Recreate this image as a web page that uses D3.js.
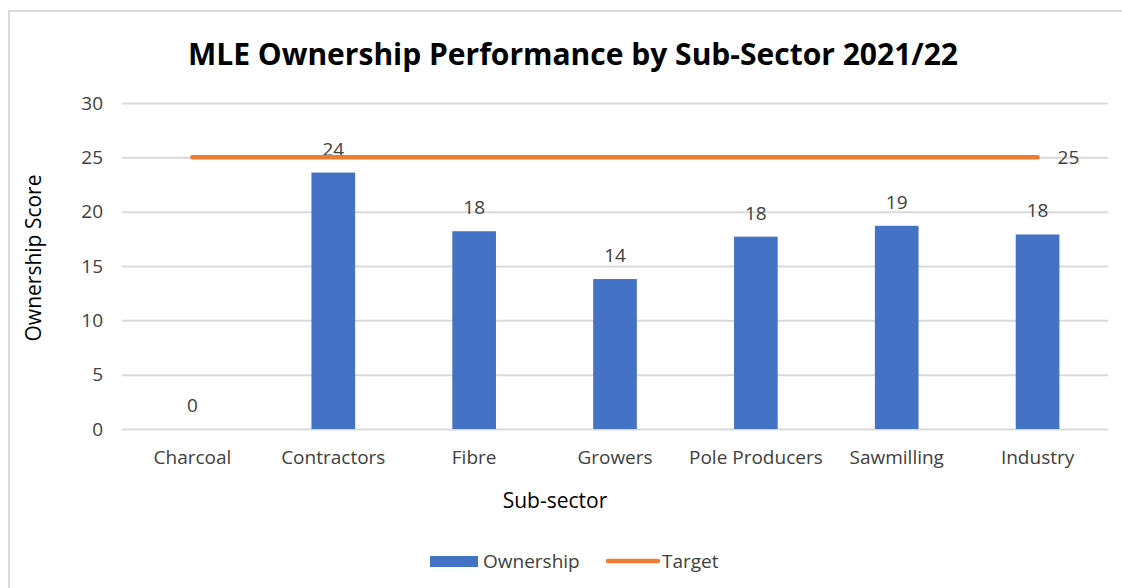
<!DOCTYPE html>
<html>
<head>
<meta charset="utf-8">
<script src="https://cdn.jsdelivr.net/npm/d3@7"></script>
<style>
  body { margin: 0; background: #fff; }
  text { font-family: "Open Sans", sans-serif; fill: #404040; }
</style>
</head>
<body>
<svg id="chart"></svg>
<script>
// data
const categories = ["Charcoal", "Contractors", "Fibre", "Growers", "Pole Producers", "Sawmilling", "Industry"];
const ownership = [0, 23.6, 18.2, 13.8, 17.7, 18.7, 17.9];
const target = [25, 25, 25, 25, 25, 25, 25];
const yTicks = [0, 5, 10, 15, 20, 25, 30];

const W = 1122, H = 588;
const margin = { top: 103, right: 14, bottom: 159, left: 122 };
const width = W - margin.left - margin.right,
      height = H - margin.top - margin.bottom;

const svg = d3.select("#chart").attr("width", W).attr("height", H);

// outer chart border (only top and left edges are visible)
svg.append("path")
    .attr("d", "M9,588V11H1122")
    .attr("fill", "none").attr("stroke", "#d9d9d9").attr("stroke-width", 2);

const g = svg.append("g")
    .attr("transform", "translate(" + margin.left + "," + margin.top + ")");

var xScale = d3.scaleBand().domain(categories).range([0, width]).paddingInner(0.69).paddingOuter(0.345);
var xPos = d3.scaleBand().domain(categories).range([0, width]);
var yScale = d3.scaleLinear().domain([0, 30]).range([height, 0]);

// gridlines
g.append("g").selectAll("line")
    .data(yTicks)
    .enter().append("line")
    .attr("x1", 0).attr("x2", width)
    .attr("y1", d => yScale(d) + 0.5).attr("y2", d => yScale(d) + 0.5)
    .attr("stroke", "#d9d9d9").attr("stroke-width", 2);

// y axis labels
const yAxis = g.append("g")
    .attr("transform", "translate(-19,0)")
    .call(d3.axisLeft(yScale).tickValues(yTicks).tickSize(0).tickPadding(0));
yAxis.select(".domain").remove();
yAxis.selectAll("text").style("font-size", "19px").style("font-family", "Open Sans").attr("fill", "#404040");

// x axis labels
const xAxis = g.append("g")
    .attr("transform", "translate(0," + height + ")")
    .call(d3.axisBottom(xPos).tickSize(0).tickPadding(22));
xAxis.select(".domain").remove();
xAxis.selectAll("text").style("font-size", "19px").style("font-family", "Open Sans").attr("fill", "#404040");

// bars
g.selectAll(".bar")
    .data(ownership)
    .enter().append("rect")
    .attr("class", "bar")
    .attr("x", (d, i) => xScale(categories[i]))
    .attr("y", d => yScale(d))
    .attr("width", xScale.bandwidth())
    .attr("height", d => height - yScale(d))
    .attr("fill", "#4472c4");

// bar value labels
g.selectAll(".blabel")
    .data(ownership)
    .enter().append("text")
    .attr("class", "blabel")
    .attr("x", (d, i) => xPos(categories[i]) + xPos.bandwidth() / 2)
    .attr("y", d => yScale(d) - 17)
    .attr("text-anchor", "middle")
    .style("font-size", "19px")
    .text(d => d3.format(".0f")(d));

// target line
const line = d3.line()
    .x((d, i) => xPos(categories[i]) + xPos.bandwidth() / 2)
    .y(d => yScale(d));
g.append("path")
    .datum(target)
    .attr("d", line)
    .attr("fill", "none")
    .attr("stroke", "#ed7d31")
    .attr("stroke-width", 4.5)
    .attr("stroke-linecap", "round");

// target label at last point
g.append("text")
    .attr("x", xPos(categories[6]) + xPos.bandwidth() / 2 + 20)
    .attr("y", yScale(target[6]) + 7)
    .style("font-size", "19px")
    .text(target[6]);

// title
svg.append("text")
    .attr("x", 573).attr("y", 65)
    .attr("text-anchor", "middle")
    .style("font-size", "30px").style("font-weight", "bold")
    .style("fill", "#000")
    .text("MLE Ownership Performance by Sub-Sector 2021/22");

// axis titles
svg.append("text")
    .attr("transform", "translate(41,258) rotate(-90)")
    .attr("text-anchor", "middle")
    .style("font-size", "21px").style("fill", "#000")
    .text("Ownership Score");

svg.append("text")
    .attr("x", 555).attr("y", 508)
    .attr("text-anchor", "middle")
    .style("font-size", "21px").style("fill", "#000")
    .text("Sub-sector");

// legend
const legend = svg.append("g").attr("transform", "translate(430,561)");
legend.append("rect")
    .attr("x", 0).attr("y", -5).attr("width", 48).attr("height", 11)
    .attr("fill", "#4472c4");
legend.append("text")
    .attr("x", 53).attr("y", 7)
    .style("font-size", "19px")
    .text("Ownership");
legend.append("line")
    .attr("x1", 178).attr("x2", 228).attr("y1", 0).attr("y2", 0)
    .attr("stroke", "#ed7d31").attr("stroke-width", 4.5).attr("stroke-linecap", "round");
legend.append("text")
    .attr("x", 232).attr("y", 7)
    .style("font-size", "19px")
    .text("Target");
</script>
</body>
</html>
